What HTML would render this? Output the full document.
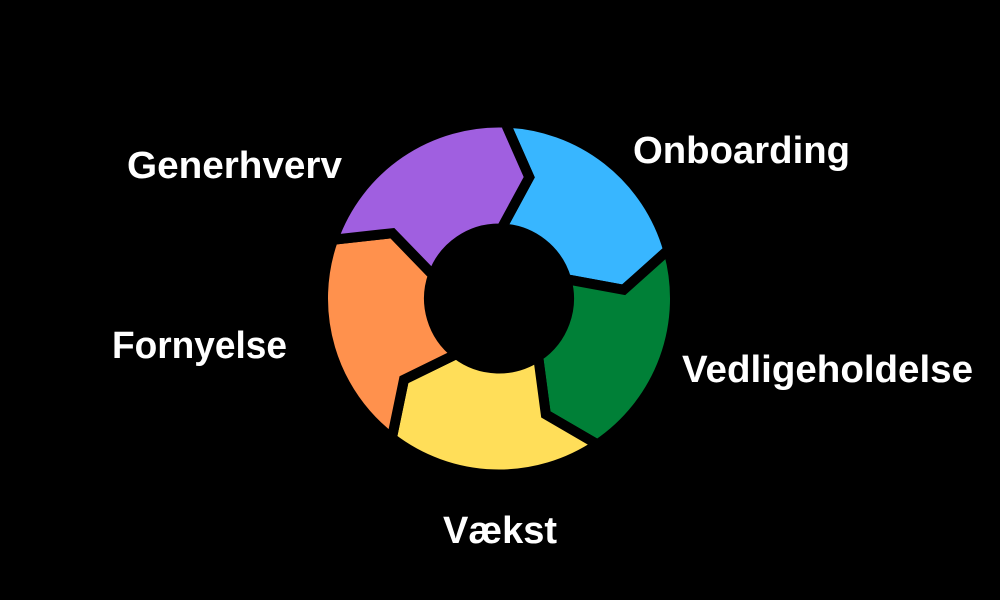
<!DOCTYPE html>
<html>
<head>
<meta charset="utf-8">
<style>
  html, body { margin: 0; padding: 0; background: #000; }
  body { width: 1000px; height: 600px; overflow: hidden; }
  svg { display: block; }
  text { font-family: "Liberation Sans", "DejaVu Sans", sans-serif; font-weight: bold; fill: #fff; font-size: 38px; }
</style>
</head>
<body>
<svg width="1000" height="600" viewBox="0 0 1000 600" xmlns="http://www.w3.org/2000/svg">
  <rect width="1000" height="600" fill="#000"/>
  <g stroke="#000" stroke-width="10" stroke-linejoin="miter">
    <!-- Blue: Onboarding -->
    <path fill="#38B6FF" d="M505.14,122.61 A176,176 0 0 1 668.19,249.99 L623.70,289.77 L566.29,279.21 A70,70 0 0 0 501.44,228.54 L529.24,177.21 Z"/>
    <!-- Green: Vedligeholdelse -->
    <path fill="#008037" d="M668.19,249.99 A176,176 0 0 1 597.42,444.40 L545.83,414.40 L538.14,356.53 A70,70 0 0 0 566.29,279.21 L623.70,289.77 Z"/>
    <!-- Yellow: Vækst -->
    <path fill="#FFDE59" d="M597.42,444.40 A176,176 0 0 1 391.85,438.14 L403.95,379.68 L456.38,354.04 A70,70 0 0 0 538.14,356.53 L545.83,414.40 Z"/>
    <!-- Orange: Fornyelse -->
    <path fill="#FF914D" d="M391.85,438.14 A176,176 0 0 1 333.10,239.75 L392.42,233.19 L433.02,275.13 A70,70 0 0 0 456.38,354.04 L403.95,379.68 Z"/>
    <!-- Purple: Generhverv -->
    <path fill="#A05FE0" d="M333.10,239.75 A176,176 0 0 1 505.14,122.61 L529.24,177.21 L501.44,228.54 A70,70 0 0 0 433.02,275.13 L392.42,233.19 Z"/>
  </g>
  <circle cx="499" cy="298.5" r="74" fill="#000"/>

  <text x="127" y="178" textLength="215" lengthAdjust="spacingAndGlyphs">Generhverv</text>
  <text x="633" y="163" textLength="217" lengthAdjust="spacingAndGlyphs">Onboarding</text>
  <text x="682" y="382" textLength="291" lengthAdjust="spacingAndGlyphs">Vedligeholdelse</text>
  <text x="112" y="358" textLength="175" lengthAdjust="spacingAndGlyphs">Fornyelse</text>
  <text x="443" y="543" textLength="114" lengthAdjust="spacingAndGlyphs">Vækst</text>
</svg>
</body>
</html>
